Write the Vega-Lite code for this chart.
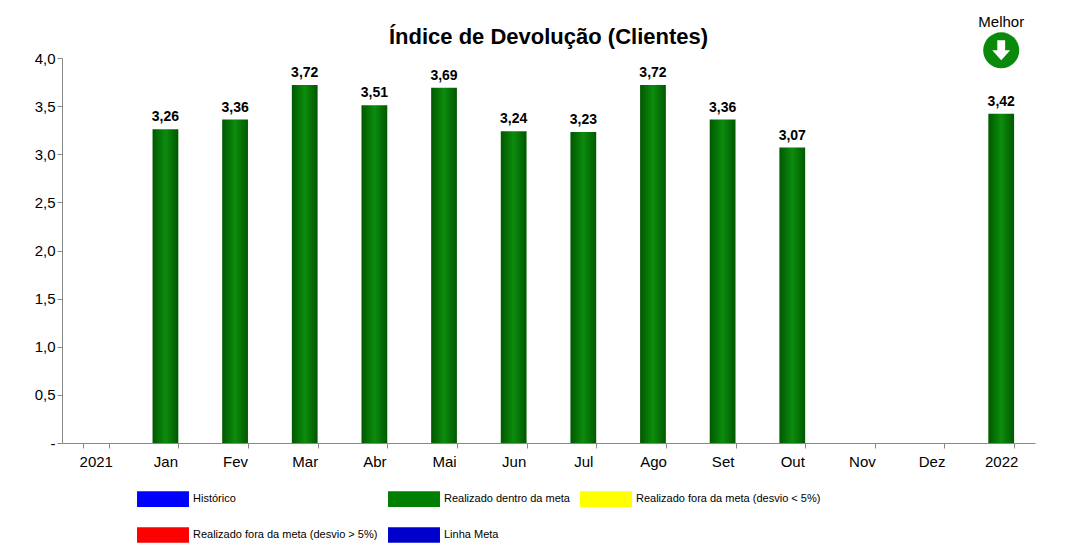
{
  "$schema": "https://vega.github.io/schema/vega-lite/v6.json",
  "autosize": "none",
  "width": 973,
  "height": 385,
  "padding": {"left": 62, "top": 58, "right": 45, "bottom": 102},
  "background": "white",
  "title": {"text": "Índice de Devolução (Clientes)", "font": "Liberation Sans", "fontSize": 22, "fontWeight": "bold", "color": "black", "offset": -34},
  "datasets": {
    "bars": [
      {"mes": "2021", "valor": null, "rotulo": ""},
      {"mes": "Jan", "valor": 3.26, "rotulo": "3,26"},
      {"mes": "Fev", "valor": 3.36, "rotulo": "3,36"},
      {"mes": "Mar", "valor": 3.72, "rotulo": "3,72"},
      {"mes": "Abr", "valor": 3.51, "rotulo": "3,51"},
      {"mes": "Mai", "valor": 3.69, "rotulo": "3,69"},
      {"mes": "Jun", "valor": 3.24, "rotulo": "3,24"},
      {"mes": "Jul", "valor": 3.23, "rotulo": "3,23"},
      {"mes": "Ago", "valor": 3.72, "rotulo": "3,72"},
      {"mes": "Set", "valor": 3.36, "rotulo": "3,36"},
      {"mes": "Out", "valor": 3.07, "rotulo": "3,07"},
      {"mes": "Nov", "valor": null, "rotulo": ""},
      {"mes": "Dez", "valor": null, "rotulo": ""},
      {"mes": "2022", "valor": 3.42, "rotulo": "3,42"}
    ],
    "legenda": [
      {"mes": "2021", "serie": "Histórico"},
      {"mes": "2021", "serie": "Realizado dentro da meta"},
      {"mes": "2021", "serie": "Realizado fora da meta (desvio < 5%)"},
      {"mes": "2021", "serie": "Realizado fora da meta (desvio > 5%)"},
      {"mes": "2021", "serie": "Linha Meta"}
    ],
    "melhor": [{"mes": "2022", "y": 4.37, "seta": 4.08}]
  },
  "encoding": {
    "x": {"field": "mes", "type": "ordinal", "sort": null, "title": null,
      "scale": {"domain": ["2021","Jan","Fev","Mar","Abr","Mai","Jun","Jul","Ago","Set","Out","Nov","Dez","2022"], "paddingInner": 0.63, "paddingOuter": 0.3},
      "axis": {"labelAngle": 0, "labelFontSize": 15, "labelFont": "Liberation Sans", "labelColor": "black", "domainColor": "#888", "tickColor": "#888", "tickBand": "extent", "labelPadding": 6}}
  },
  "layer": [
    {
      "data": {"name": "bars"},
      "mark": {"type": "bar", "color": {"gradient": "linear", "x1": 0, "x2": 1, "y1": 0, "y2": 0, "stops": [{"offset": 0, "color": "#005800"}, {"offset": 0.5, "color": "#0c8c0c"}, {"offset": 1, "color": "#005800"}]}},
      "encoding": {
        "y": {"field": "valor", "type": "quantitative", "title": null,
          "scale": {"domain": [0, 4]},
          "axis": {"values": [0,0.5,1,1.5,2,2.5,3,3.5,4], "grid": false, "labelFontSize": 15, "labelFont": "Liberation Sans", "labelColor": "black", "domainColor": "#888", "tickColor": "#888",
            "labelExpr": "datum.value == 0 ? '-' : replace(format(datum.value, '.1f'), '.', ',')"}}
      }
    },
    {
      "data": {"name": "bars"},
      "mark": {"type": "text", "dy": -12, "fontSize": 14, "fontWeight": "bold", "font": "Liberation Sans", "color": "black"},
      "encoding": {"y": {"field": "valor", "type": "quantitative"}, "text": {"field": "rotulo"}}
    },
    {
      "data": {"name": "melhor"},
      "mark": {"type": "text", "fontSize": 15, "font": "Liberation Sans", "color": "black", "clip": false},
      "encoding": {"y": {"field": "y", "type": "quantitative"}, "text": {"value": "Melhor"}}
    },
    {
      "data": {"name": "melhor"},
      "mark": {"type": "point", "shape": "M-1.4,-1H1.4V1H-1.4Z", "filled": true, "size": 0, "opacity": 0, "clip": false},
      "encoding": {"y": {"field": "seta", "type": "quantitative"}}
    },
    {
      "data": {"name": "melhor"},
      "mark": {"type": "point", "shape": "circle", "filled": true, "size": 1300, "color": "#0a8a0a", "opacity": 1, "clip": false},
      "encoding": {"y": {"field": "seta", "type": "quantitative"}}
    },
    {
      "data": {"name": "melhor"},
      "mark": {"type": "point", "shape": "M-0.35,-0.9H0.35V0H0.8L0,0.9L-0.8,0H-0.35Z", "filled": true, "size": 500, "color": "white", "opacity": 1, "clip": false},
      "encoding": {"y": {"field": "seta", "type": "quantitative"}}
    },
    {
      "data": {"name": "legenda"},
      "mark": {"type": "point", "filled": true, "size": 0, "opacity": 1},
      "encoding": {
        "y": {"datum": 0},
        "color": {"field": "serie", "type": "nominal", "title": null,
          "scale": {"domain": ["Histórico","Realizado dentro da meta","Realizado fora da meta (desvio < 5%)","Realizado fora da meta (desvio > 5%)","Linha Meta"],
            "range": ["#0000ff","#008000","#ffff00","#ff0000","#0000cc"]},
          "legend": {"orient": "none", "legendX": 75, "legendY": 415, "columns": 3, "direction": "horizontal",
            "symbolType": "M-1,-0.3H1V0.3H-1Z", "symbolSize": 2700, "symbolOpacity": 1, "symbolStrokeWidth": 0,
            "labelFontSize": 11, "labelFont": "Liberation Sans", "labelColor": "black", "labelLimit": 200,
            "columnPadding": 10, "rowPadding": 2, "labelOffset": 4}}
      }
    }
  ],
  "config": {"view": {"stroke": null}}
}
